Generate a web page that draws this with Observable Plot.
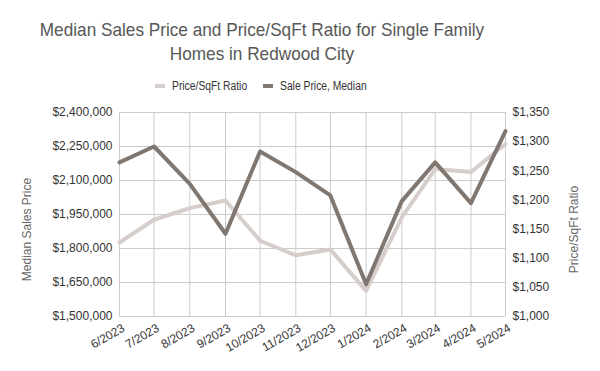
<!DOCTYPE html>
<html>
<head>
<meta charset="utf-8">
<script src="https://cdn.jsdelivr.net/npm/d3@7"></script>
<script src="https://cdn.jsdelivr.net/npm/@observablehq/plot@0.6"></script>
<style>
  html, body { margin: 0; padding: 0; background: #fff; }
  body { width: 600px; height: 371px; overflow: hidden; font-family: Arial, "Liberation Sans", sans-serif; }
  #header { position: relative; width: 600px; height: 100px; }
  #title { position: absolute; left: 0; top: 18px; width: 524px; text-align: center; font-size: 19px; line-height: 24px; color: #575757; white-space: nowrap; transform: scaleX(0.905); transform-origin: 262px 0; }
  .sw { position: absolute; top: 84px; width: 10px; height: 4px; }
  .lt { position: absolute; top: 79px; font-size: 12px; line-height: 14px; color: #333; white-space: nowrap; transform: scaleX(0.86); transform-origin: 0 0; }
</style>
</head>
<body>
<div id="header">
  <div id="title">Median Sales Price and Price/SqFt Ratio for Single Family<br>Homes in Redwood City</div>
  <div class="sw" id="sw1" style="left:155px"></div>
  <div class="lt" id="lt1" style="left:172px"></div>
  <div class="sw" id="sw2" style="left:263px"></div>
  <div class="lt" id="lt2" style="left:280px"></div>
</div>
<div id="chart"></div>
<script>
const months = ["6/2023","7/2023","8/2023","9/2023","10/2023","11/2023","12/2023","1/2024","2/2024","3/2024","4/2024","5/2024"];
const salePrice = [2180000, 2250000, 2085000, 1865000, 2228000, 2137000, 2034000, 1642000, 2009000, 2180000, 2000000, 2318000];
const pricePerSqFt = [1127, 1166, 1186, 1199, 1130, 1105, 1115, 1044, 1170, 1253, 1248, 1296];
const leftTicks = [1500000, 1650000, 1800000, 1950000, 2100000, 2250000, 2400000];
const rightTicks = [1000, 1050, 1100, 1150, 1200, 1250, 1300, 1350];
const seriesNames = ["Price/SqFt Ratio", "Sale Price, Median"];
const seriesColors = ["#d5cecb", "#807770"];

document.getElementById("sw1").style.background = seriesColors[0];
document.getElementById("sw2").style.background = seriesColors[1];
document.getElementById("lt1").textContent = seriesNames[0];
document.getElementById("lt2").textContent = seriesNames[1];

const dates = months.map(m => { const [mo, yr] = m.split("/").map(Number); return new Date(Date.UTC(yr, mo - 1, 1)); });
const leftDomain = [leftTicks[0], leftTicks[leftTicks.length - 1]];
const rightDomain = [rightTicks[0], rightTicks[rightTicks.length - 1]];
// map right-axis values onto the left-axis scale
const toLeft = v => leftDomain[0] + (v - rightDomain[0]) / (rightDomain[1] - rightDomain[0]) * (leftDomain[1] - leftDomain[0]);
const fromLeft = v => rightDomain[0] + (v - leftDomain[0]) / (leftDomain[1] - leftDomain[0]) * (rightDomain[1] - rightDomain[0]);

const rows = months.map((m, i) => ({date: dates[i], label: m, sale: salePrice[i], ratio: pricePerSqFt[i]}));
const money = d3.format(",");

const chart = Plot.plot({
  width: 600,
  height: 271,
  marginTop: 12,
  marginBottom: 55,
  marginLeft: 119,
  marginRight: 95,
  style: {fontFamily: "Arial, 'Liberation Sans', sans-serif", fontSize: "12px", color: "#333", background: "#fff", overflow: "visible"},
  x: {type: "utc", domain: [dates[0], dates[dates.length - 1]], axis: null},
  y: {domain: leftDomain, axis: null},
  marks: [
    Plot.gridY(leftTicks, {stroke: "#cccccc", strokeOpacity: 1}),
    Plot.gridX(dates, {stroke: "#cccccc", strokeOpacity: 1}),
    Plot.axisY(leftTicks, {anchor: "left", tickSize: 0, tickPadding: 7, tickFormat: d => "$" + money(d), label: null, fill: "#333", fontSize: 12}),
    Plot.axisY(rightTicks.map(toLeft), {anchor: "right", tickSize: 0, tickPadding: 7, tickFormat: d => "$" + money(Math.round(fromLeft(d))), label: null, fill: "#333", fontSize: 12}),
    Plot.text(rows, {x: "date", frameAnchor: "bottom", text: "label", rotate: -30, textAnchor: "end", dx: 6, dy: 14, fontSize: 12, fill: "#333"}),
    Plot.text(["Median Sales Price"], {frameAnchor: "left", text: d => d, rotate: -90, textAnchor: "middle", dx: -92, dy: 15, fontSize: 12, fill: "#666"}),
    Plot.text(["Price/SqFt Ratio"], {frameAnchor: "right", text: d => d, rotate: -90, textAnchor: "middle", dx: 69, dy: 15, fontSize: 12, fill: "#666"}),
    Plot.line(rows, {x: "date", y: d => toLeft(d.ratio), stroke: seriesColors[0], strokeWidth: 4}),
    Plot.line(rows, {x: "date", y: "sale", stroke: seriesColors[1], strokeWidth: 4})
  ]
});
document.getElementById("chart").appendChild(chart);
</script>
</body>
</html>
